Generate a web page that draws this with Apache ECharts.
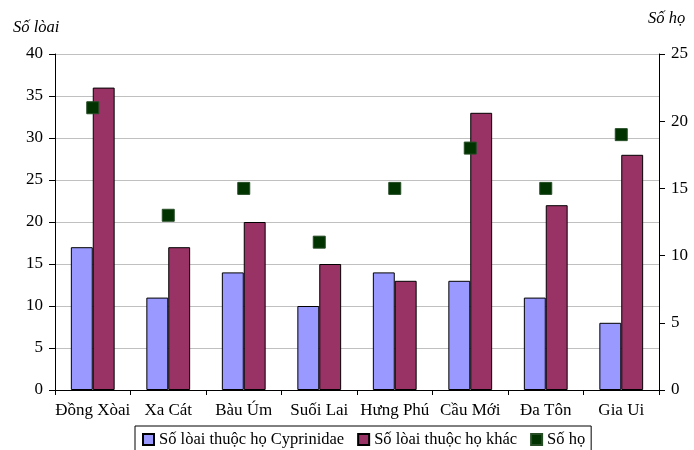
<!DOCTYPE html>
<html><head><meta charset="utf-8">
<script src="https://cdn.jsdelivr.net/npm/echarts@6/dist/echarts.min.js"></script>
<style>html,body{margin:0;padding:0;background:#fff}#c{width:694px;height:450px}</style>
</head><body><div id="c"></div>
<script>
const categories = ['Đồng Xòai','Xa Cát','Bàu Úm','Suối Lai','Hưng Phú','Cầu Mới','Đa Tôn','Gia Ui'];
const cyprinidae = [17, 11, 14, 10, 14, 13, 11, 8];
const otherFamilies = [36, 17, 20, 15, 13, 33, 22, 28];
const familyCount = [21, 13, 15, 11, 15, 18, 15, 19];
const seriesNames = ['Số lòai thuộc họ Cyprinidae','Số lòai thuộc họ khác','Số họ'];
const font = 'Liberation Serif, Times New Roman, serif';

const chart = echarts.init(document.getElementById('c'), null, {renderer:'canvas'});
chart.setOption({
  animation:false,
  textStyle:{fontFamily:font},
  grid:{left:55,right:35,top:54,bottom:60},
  legend:{
    data:seriesNames, left:135, top:426,
    itemWidth:11, itemHeight:11, itemGap:13,
    borderColor:'#000', borderWidth:1, padding:[5,6,5,7],
    textStyle:{fontFamily:font,fontSize:16.5,color:'#000'},
    icon:'rect'
  },
  xAxis:{
    type:'category', data:categories,
    axisLine:{lineStyle:{color:'#000'}},
    axisTick:{show:true,length:5,lineStyle:{color:'#000'}},
    axisLabel:{fontFamily:font,fontSize:17,color:'#000',margin:12,interval:0}
  },
  yAxis:[
    {type:'value',min:0,max:40,interval:5,
     axisLine:{show:true,lineStyle:{color:'#000'}},
     axisTick:{show:true,length:6,lineStyle:{color:'#000'}},
     axisLabel:{fontFamily:font,fontSize:17,color:'#000',margin:12},
     splitLine:{lineStyle:{color:'#c0c0c0'}}},
    {type:'value',min:0,max:25,interval:5,position:'right',
     axisLine:{show:true,lineStyle:{color:'#000'}},
     axisTick:{show:true,length:6,inside:false,lineStyle:{color:'#000'}},
     axisLabel:{fontFamily:font,fontSize:17,color:'#000',margin:12},
     splitLine:{show:false}}
  ],
  graphic:[
    {type:'text',left:13,top:19,style:{text:'Số lòai',font:'italic 16.5px '+font,fill:'#000'}},
    {type:'text',left:648,top:10,style:{text:'Số họ',font:'italic 16.5px '+font,fill:'#000'}}
  ],
  series:[
    {name:seriesNames[0],type:'bar',data:cyprinidae,barGap:'0%',barCategoryGap:'42%',
     itemStyle:{color:'#9999ff',borderColor:'#000',borderWidth:1}},
    {name:seriesNames[1],type:'bar',data:otherFamilies,
     itemStyle:{color:'#993366',borderColor:'#000',borderWidth:1}},
    {name:seriesNames[2],type:'scatter',yAxisIndex:1,data:familyCount,symbol:'rect',symbolSize:12,
     itemStyle:{color:'#003300',borderColor:'#264d26',borderWidth:1,opacity:1},z:5}
  ]
});
</script></body></html>
